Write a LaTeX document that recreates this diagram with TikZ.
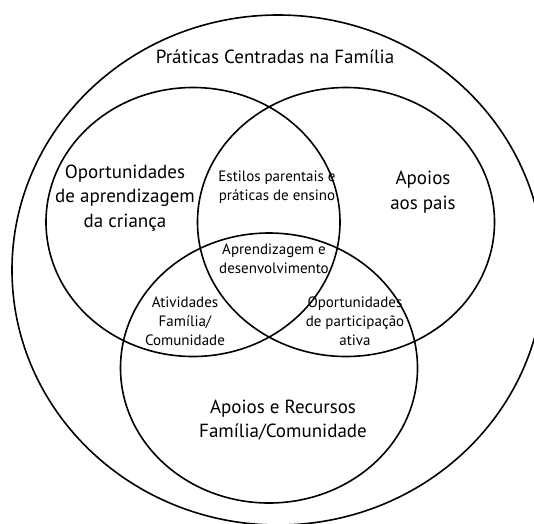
\documentclass[tikz,border=0pt]{standalone}
\usepackage{fontspec}
\setmainfont{PT Sans}
\usetikzlibrary{shapes.geometric}
\begin{document}
\begin{tikzpicture}[x=1pt,y=-1pt,
  ring/.style={draw=black, line width=1.6pt, ellipse, inner sep=0pt, outer sep=0pt},
  big/.style={font=\fontsize{19}{24.5}\selectfont, align=center, inner sep=0pt},
  small/.style={font=\fontsize{15}{19}\selectfont, align=center, inner sep=0pt}]
\useasboundingbox (0,0) rectangle (534,523);
\fill[white] (0,0) rectangle (534,523);
\clip (0,0) rectangle (534,523);
\node[ring, minimum width=532pt, minimum height=510pt] (outer) at (278,270) {};
\node[ring, minimum width=294pt, minimum height=269pt] (learn) at (193,222) {};
\node[ring, minimum width=297pt, minimum height=269pt] (parents) at (346,222) {};
\node[ring, minimum width=297pt, minimum height=270pt] (community) at (269,368) {};
\node[big] (title) at (275,57) {Práticas Centradas na Família};
\node[big] (tlearn) at (125,198) {Oportunidades\\de aprendizagem\\da criança};
\node[big] (tparents) at (423,192) {Apoios\\aos pais};
\node[big] (tcomm) at (283,420) {Apoios e Recursos\\Família/Comunidade};
\node[small] (tstyle) at (277,187) {Estilos parentais e\\práticas de ensino};
\node[small] (tcore) at (274,259) {Aprendizagem e\\desenvolvimento};
\node[small] (tact) at (185,321) {Atividades\\Família/\\Comunidade};
\node[small] (topp) at (355,321) {Oportunidades\\de participação\\ativa};
\end{tikzpicture}
\end{document}
